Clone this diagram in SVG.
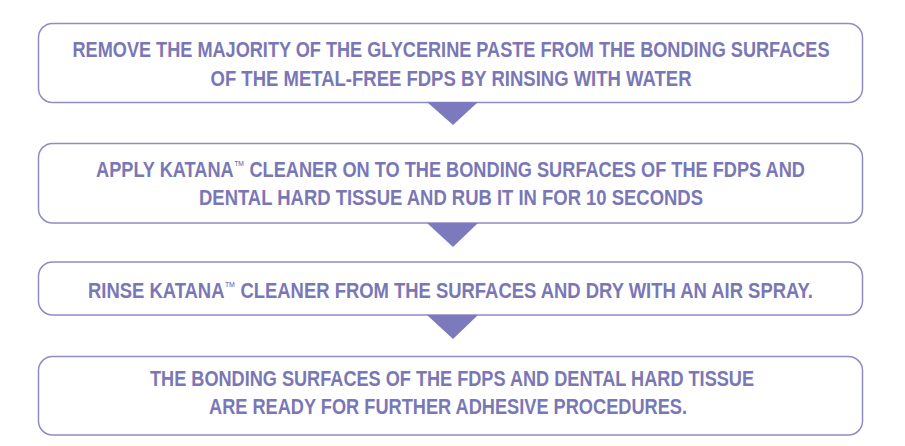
<svg xmlns="http://www.w3.org/2000/svg" width="905" height="446" viewBox="0 0 905 446">
<style>
.box{fill:#ffffff;stroke:#8f8cc4;stroke-width:1.5}
.t{font-family:"Liberation Sans",Arial,sans-serif;font-weight:bold;font-size:22px;fill:#7a77b6;text-anchor:middle}
.tm{font-size:13px;font-weight:normal}
.arr{fill:#7d79bd}
</style>
<rect width="905" height="446" fill="#ffffff"/>
<g id="step1">
<rect class="box" x="38.5" y="23.5" width="824" height="79" rx="14"/>
<text class="t" x="451" y="56.5" textLength="757" lengthAdjust="spacingAndGlyphs">REMOVE THE MAJORITY OF THE GLYCERINE PASTE FROM THE BONDING SURFACES</text>
<text class="t" x="451" y="85.5" textLength="481" lengthAdjust="spacingAndGlyphs">OF THE METAL-FREE FDPS BY RINSING WITH WATER</text>
</g>
<g id="step2">
<rect class="box" x="38.5" y="143.5" width="824" height="79.5" rx="14"/>
<text class="t" x="450.5" y="177" textLength="709" lengthAdjust="spacingAndGlyphs">APPLY KATANA<tspan class="tm" dy="-7">™</tspan><tspan dy="7"> CLEANER ON TO THE BONDING SURFACES OF THE FDPS AND</tspan></text>
<text class="t" x="451" y="205" textLength="504" lengthAdjust="spacingAndGlyphs">DENTAL HARD TISSUE AND RUB IT IN FOR 10 SECONDS</text>
</g>
<g id="step3">
<rect class="box" x="38.5" y="262" width="824" height="53" rx="14"/>
<text class="t" x="450.5" y="298" textLength="725" lengthAdjust="spacingAndGlyphs">RINSE KATANA<tspan class="tm" dy="-7">™</tspan><tspan dy="7"> CLEANER FROM THE SURFACES AND DRY WITH AN AIR SPRAY.</tspan></text>
</g>
<g id="step4">
<rect class="box" x="38.5" y="356.5" width="824" height="78.5" rx="14"/>
<text class="t" x="452" y="386" textLength="604" lengthAdjust="spacingAndGlyphs">THE BONDING SURFACES OF THE FDPS AND DENTAL HARD TISSUE</text>
<text class="t" x="448" y="414" textLength="478" lengthAdjust="spacingAndGlyphs">ARE READY FOR FURTHER ADHESIVE PROCEDURES.</text>
</g>
<g id="connectors">
<polygon class="arr" points="427,102 478,102 453,125"/>
<polygon class="arr" points="427,223 478,223 453,247"/>
<polygon class="arr" points="427,315 478,315 453,339"/>
</g>
</svg>
